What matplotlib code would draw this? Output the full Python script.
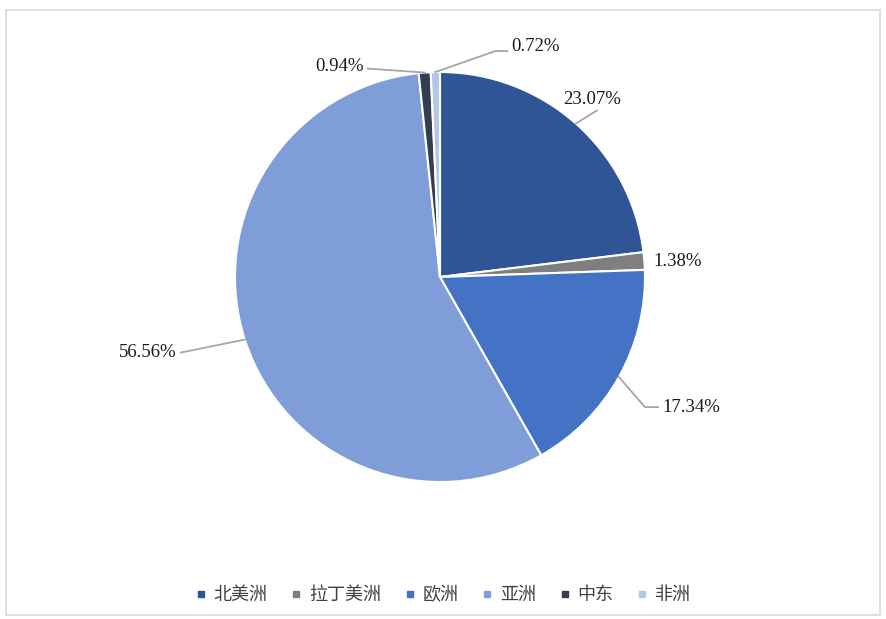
import matplotlib.pyplot as plt
import numpy as np
from matplotlib.lines import Line2D
from matplotlib.patches import Rectangle

plt.rcParams['font.family'] = ['Liberation Serif', 'Noto Sans CJK SC', 'DejaVu Sans']

regions = ["北美洲", "拉丁美洲", "欧洲", "亚洲", "中东", "非洲"]
shares = [23.07, 1.38, 17.34, 56.56, 0.94, 0.72]
colors = ["#2F5597", "#7F7F7F", "#4472C4", "#7F9DD8", "#333F50", "#B4C7E7"]

# label placement relative to the wedge edge point (pixels, y up)
text_off = [(16, 24, 'center'), (9, 0, 'left'), (43, -30, 'left'),
            (-68, -13, 'right'), (-61, 6, 'right'), (76, 26, 'left')]
leaders = [[(21, 13)], [], [(26, -30), (39, -30)],
           [(-64, -13)], [(-57, 4)], [(60, 21), (72, 21)]]

W, H = 886, 619
fig = plt.figure(figsize=(W / 100, H / 100), dpi=100)
ax = fig.add_axes([0, 0, 1, 1])

# chart frame
ax.add_patch(Rectangle((6, 4), 874, H - 14, fill=False, edgecolor='#D9D9D9', lw=1.2))

cx, cy, r = 440, H - 277, 205
wedges, _ = ax.pie(shares, colors=colors, startangle=90, counterclock=False,
                   center=(cx, cy), radius=r,
                   wedgeprops=dict(edgecolor='white', linewidth=1.5))
ax.set_xlim(0, W)
ax.set_ylim(0, H)
ax.set_aspect('auto')
ax.axis('off')

for w, val, (dx, dy, ha), lead in zip(wedges, shares, text_off, leaders):
    ang = np.deg2rad((w.theta1 + w.theta2) / 2)
    ex, ey = cx + r * np.cos(ang), cy + r * np.sin(ang)
    if lead:
        xs = [ex] + [ex + p[0] for p in lead]
        ys = [ey] + [ey + p[1] for p in lead]
        ax.plot(xs, ys, color='#A6A6A6', lw=1.3)
    ax.text(ex + dx, ey + dy, f"{val:.2f}%", ha=ha, va='center',
            fontsize=13.5, color='#1A1A1A')

handles = [Line2D([], [], marker='s', linestyle='', markersize=5, color=c) for c in colors]
ax.legend(handles, regions, loc='center', bbox_to_anchor=(443 / W, 1 - 595 / H),
          ncol=6, frameon=False, handlelength=0.6, handletextpad=0.4,
          columnspacing=1.3, prop={'family': ['Noto Sans CJK SC'], 'size': 13},
          labelcolor='#404040')

plt.savefig("out.png", dpi=100)
